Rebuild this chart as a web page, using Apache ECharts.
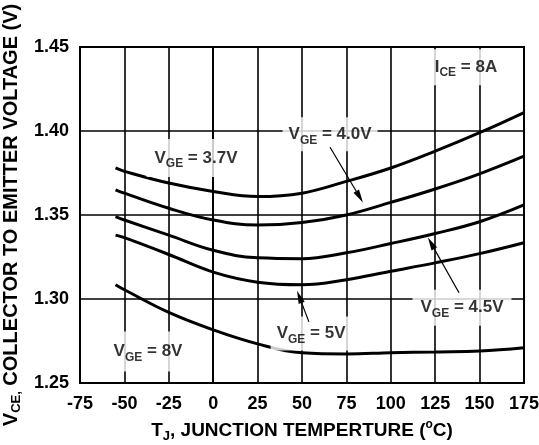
<!DOCTYPE html>
<html><head><meta charset="utf-8">
<script src="https://cdn.jsdelivr.net/npm/echarts@6/dist/echarts.min.js"></script>
<style>html,body{margin:0;padding:0;background:#fff}#c{width:539px;height:445px}</style>
</head><body><div id="c"></div>
<script>
// Junction temperature (°C) sample points
const temps = [-55, -50, -25, 0, 25, 50, 75, 100, 125, 150, 175];
// VCE (V) for each gate voltage
const vge37 = [1.378, 1.376, 1.369, 1.364, 1.361, 1.363, 1.370, 1.378, 1.388, 1.399, 1.411];
const vge40 = [1.365, 1.363, 1.354, 1.347, 1.344, 1.3455, 1.350, 1.3575, 1.3655, 1.3745, 1.385];
const vge45 = [1.349, 1.347, 1.338, 1.329, 1.3245, 1.324, 1.3275, 1.333, 1.339, 1.346, 1.356];
const vge5  = [1.338, 1.3365, 1.3265, 1.316, 1.310, 1.3085, 1.3115, 1.3165, 1.3215, 1.327, 1.3335];
const vge8  = [1.3085, 1.3055, 1.292, 1.2816, 1.2733, 1.268, 1.2673, 1.268, 1.2685, 1.269, 1.271];

// axis ticks
const xTicks = [-75, -50, -25, 0, 25, 50, 75, 100, 125, 150, 175];
const yTicks = [1.25, 1.30, 1.35, 1.40, 1.45];

// annotation texts and their anchor (data coords)
const noteTexts = ['{m|V}{s|GE}{m| = 3.7V}', '{m|V}{s|GE}{m| = 4.0V}', '{m|I}{s|CE}{m| = 8A}', '{m|V}{s|GE}{m| = 4.5V}', '{m|V}{s|GE}{m| = 5V}', '{m|V}{s|GE}{m| = 8V}'];
const noteT = [-9.7, 65.8, 142.3, 140.1, 55.1, -36.7];
const noteV = [1.3840, 1.398, 1.4380, 1.2948, 1.2795, 1.2687];
const notePad = [[7, 8], [5, 6], [6, 8], [6, 8], [5, 6], [8, 6]];

// arrows: [T start, V start, T end, V end]
const arrowsData = [
  [65.8, 1.3903, 84.3, 1.3575],
  [138.4, 1.3037, 120.9, 1.3366],
  [53.9, 1.2864, 47.2, 1.3049]
];

const FF = '"Liberation Sans", Arial, sans-serif';
const pair = arr => temps.map((t, i) => [t, arr[i]]);

const richLbl = {
  m: {fontSize: 17, fontWeight: 'bold', fontFamily: FF, color: '#000', lineHeight: 24},
  s: {fontSize: 12, fontWeight: 'bold', fontFamily: FF, color: '#000', lineHeight: 8, verticalAlign: 'bottom'}
};

const curveSeries = [vge37, vge40, vge45, vge5, vge8].map((arr, k) => ({
  type: 'line', name: 'c' + k, data: pair(arr), smooth: 0.4,
  showSymbol: false, symbol: 'none', z: 3,
  lineStyle: {color: '#000', width: 3}
}));

const chart = echarts.init(document.getElementById('c'), null, {renderer: 'canvas'});
chart.setOption({
  animation: false,
  backgroundColor: '#fff',
  grid: {left: 80, right: 15, top: 47, bottom: 62, outerBoundsMode: 'none', containLabel: false,
    show: true, borderColor: '#000', borderWidth: 2, backgroundColor: 'transparent'},
  xAxis: {
    type: 'value', min: xTicks[0], max: xTicks[xTicks.length - 1], interval: 25,
    axisLine: {show: true, lineStyle: {color: '#000', width: 2}},
    axisTick: {show: false},
    splitLine: {show: true, lineStyle: {color: '#000', width: 1.6}},
    axisLabel: {color: '#000', fontSize: 18, fontWeight: 'bold', fontFamily: FF, margin: 12,
      formatter: v => String(v)},
    name: '{m|T}{s|J}{m|, JUNCTION TEMPERTURE (}{p|o}{m|C)}',
    nameLocation: 'middle', nameGap: 36,
    nameTextStyle: {
      rich: {
        m: {fontSize: 19, fontWeight: 'bold', fontFamily: FF, color: '#000', lineHeight: 24},
        s: {fontSize: 13, fontWeight: 'bold', fontFamily: FF, color: '#000', lineHeight: 8, verticalAlign: 'bottom'},
        p: {fontSize: 12, fontWeight: 'bold', fontFamily: FF, color: '#000', lineHeight: 10, verticalAlign: 'top'}
      }
    }
  },
  yAxis: {
    type: 'value', min: yTicks[0], max: yTicks[yTicks.length - 1], interval: 0.05,
    axisLine: {show: true, lineStyle: {color: '#000', width: 2}},
    axisTick: {show: false},
    splitLine: {show: true, lineStyle: {color: '#000', width: 1.6}},
    axisLabel: {color: '#000', fontSize: 18, fontWeight: 'bold', fontFamily: FF, margin: 11,
      formatter: v => v.toFixed(2)},
    name: '{m|V}{s|CE,}{m| COLLECTOR TO EMITTER VOLTAGE (V)}',
    nameLocation: 'middle', nameRotate: 90, nameGap: 41,
    nameTextStyle: {
      rich: {
        m: {fontSize: 20, fontWeight: 'bold', fontFamily: FF, color: '#000', lineHeight: 24},
        s: {fontSize: 13, fontWeight: 'bold', fontFamily: FF, color: '#000', lineHeight: 8, verticalAlign: 'bottom'}
      }
    }
  },
  series: curveSeries.concat([
    {
      type: 'scatter', name: 'notes', z: 5, symbolSize: 0.1,
      itemStyle: {color: 'transparent'},
      data: noteTexts.map((t, i) => ({name: t, value: [noteT[i], noteV[i]],
        label: {padding: notePad[i]}})),
      label: {show: true, position: 'inside', formatter: p => p.name,
        backgroundColor: '#fff', rich: richLbl}
    },
    {
      type: 'custom', name: 'arrows', z: 6,
      data: arrowsData,
      encode: {x: [0, 2], y: [1, 3]},
      renderItem: function (params, api) {
        const p1 = api.coord([api.value(0), api.value(1)]);
        const p2 = api.coord([api.value(2), api.value(3)]);
        const dx = p2[0] - p1[0], dy = p2[1] - p1[1];
        const len = Math.sqrt(dx * dx + dy * dy);
        const ux = dx / len, uy = dy / len;
        const hl = 13, hw = 3.2;
        const bx = p2[0] - ux * hl, by = p2[1] - uy * hl;
        return {
          type: 'group',
          children: [
            {type: 'line', shape: {x1: p1[0], y1: p1[1], x2: bx, y2: by},
              style: {stroke: '#000', lineWidth: 1.2}},
            {type: 'polygon', shape: {points: [[p2[0], p2[1]], [bx - uy * hw, by + ux * hw], [bx + uy * hw, by - ux * hw]]},
              style: {fill: '#000'}}
          ]
        };
      }
    }
  ])
});
</script>
</body></html>
